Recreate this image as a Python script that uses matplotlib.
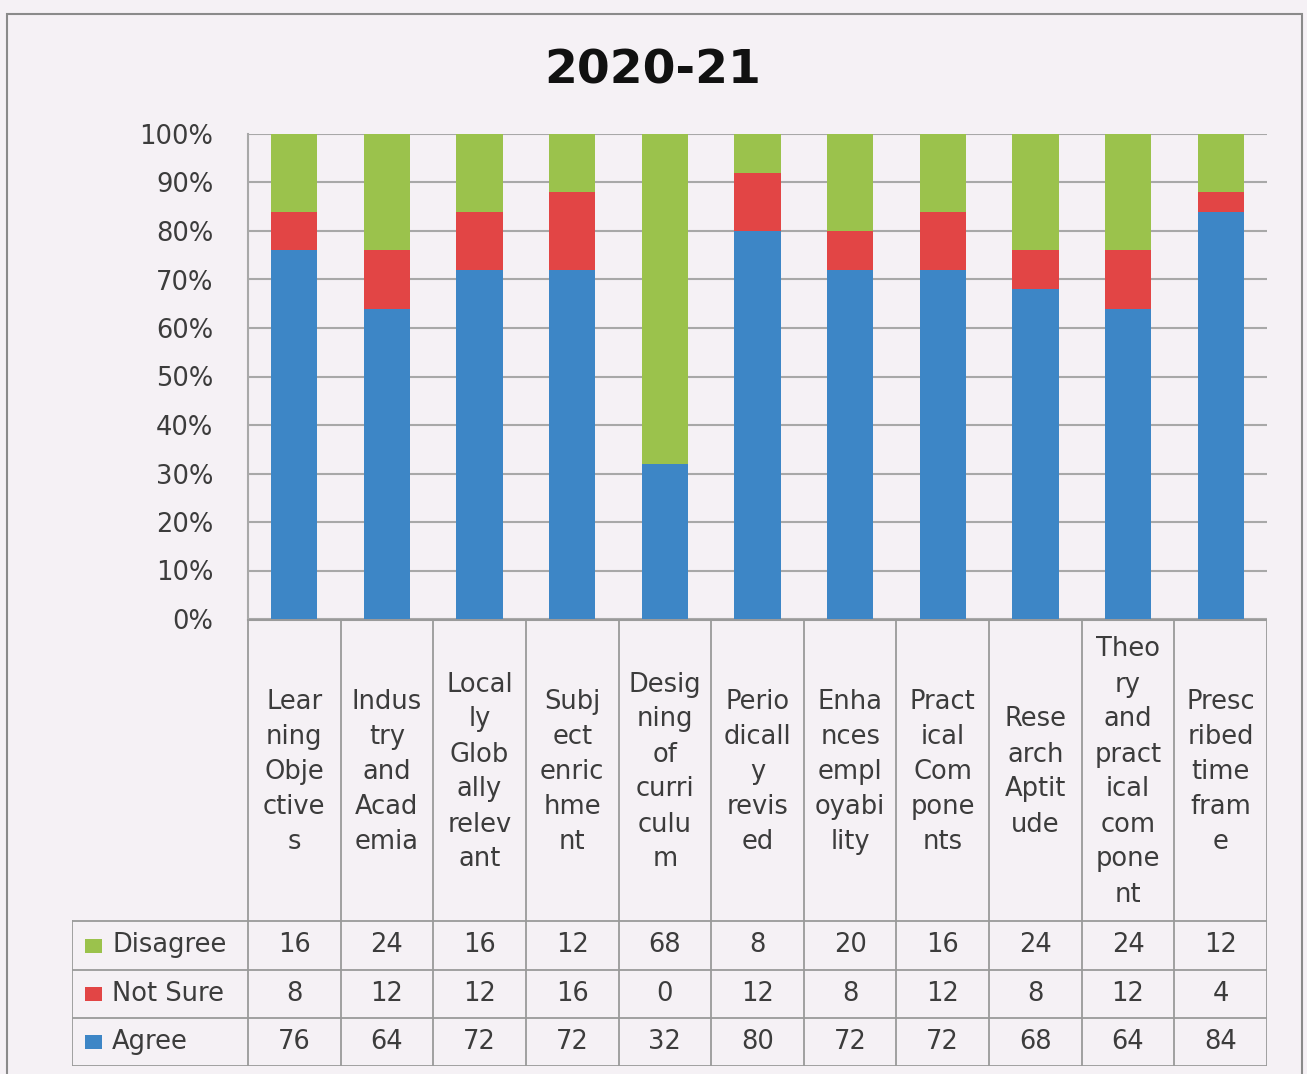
import matplotlib.pyplot as plt
from matplotlib.patches import Rectangle

# data (percent of respondents)
categories = ["Lear\nning\nObje\nctive\ns", "Indus\ntry\nand\nAcad\nemia",
              "Local\nly\nGlob\nally\nrelev\nant", "Subj\nect\nenric\nhme\nnt",
              "Desig\nning\nof\ncurri\nculu\nm", "Perio\ndicall\ny\nrevis\ned",
              "Enha\nnces\nempl\noyabi\nlity", "Pract\nical\nCom\npone\nnts",
              "Rese\narch\nAptit\nude", "Theo\nry\nand\npract\nical\ncom\npone\nnt",
              "Presc\nribed\ntime\nfram\ne"]
agree = [76, 64, 72, 72, 32, 80, 72, 72, 68, 64, 84]
not_sure = [8, 12, 12, 16, 0, 12, 8, 12, 8, 12, 4]
disagree = [16, 24, 16, 12, 68, 8, 20, 16, 24, 24, 12]
series_names = ["Disagree", "Not Sure", "Agree"]

c_agree, c_ns, c_dis = "#3d86c6", "#e24545", "#9bc24c"
txt = "#3c3c3c"
bg = "#f5f1f5"
grid_c = "#a8a8a8"
plt.rcParams['font.family'] = ['DejaVu Sans']
FS = 18.5

W, H = 1307, 1074
fig = plt.figure(figsize=(W / 100, H / 100), dpi=100, facecolor=bg)


def fx(x):
    return x / W


def fy(y):
    return 1 - y / H


# outer frame
fig.patches.append(Rectangle((fx(7), fy(1090)), fx(1302) - fx(7), fy(14) - fy(1090),
                             transform=fig.transFigure, fill=False, ec="#8a8a8a", lw=1.5))

fig.text(fx(653), fy(71), "2020-21", ha="center", va="center", fontsize=34,
         fontweight="bold", color="#111111")

# main plot area
L, R, T, B = 248, 1267, 134, 619
ax = fig.add_axes([fx(L), fy(B), fx(R) - fx(L), fy(T) - fy(B)])
ax.set_facecolor(bg)
x = range(len(categories))
ax.bar(x, agree, width=0.5, color=c_agree, zorder=3)
ax.bar(x, not_sure, width=0.5, bottom=agree, color=c_ns, zorder=3)
bottom3 = [a + n for a, n in zip(agree, not_sure)]
ax.bar(x, disagree, width=0.5, bottom=bottom3, color=c_dis, zorder=3)
ax.set_xlim(-0.5, len(categories) - 0.5)
ax.set_ylim(0, 100)
ax.set_yticks(range(0, 101, 10))
ax.set_yticklabels([f"{v}%" for v in range(0, 101, 10)], fontsize=FS, color=txt)
ax.tick_params(axis="y", length=0, pad=25)
ax.set_xticks([])
ax.yaxis.grid(True, color=grid_c, lw=1.5, zorder=0)
for s in ["top", "right", "bottom"]:
    ax.spines[s].set_visible(False)
ax.spines["left"].set_color(grid_c)
ax.spines["left"].set_linewidth(1.5)

# category labels + data table
TL, TB = 72, 1066
cw = (R - L) / len(categories)
left_x = -0.5 - (L - TL) / cw
tab = fig.add_axes([fx(TL), fy(TB), fx(R) - fx(TL), fy(B) - fy(TB)])
tab.set_xlim(left_x, len(categories) - 0.5)
tab.set_ylim(TB, B)
tab.axis("off")
tab.patch.set_alpha(0)

rows = [921, 970, 1018, 1066]
lc = "#9a9a9a"
tab.plot([-0.5, len(categories) - 0.5], [B + 1, B + 1], color=lc, lw=1.5)
for k in range(len(categories) + 1):
    tab.plot([k - 0.5, k - 0.5], [B, TB], color=lc, lw=1.3)
tab.plot([left_x, left_x], [rows[0], TB], color=lc, lw=1.3)
for yv in rows:
    tab.plot([left_x, len(categories) - 0.5], [yv, yv], color=lc, lw=1.3)

for i, lab in enumerate(categories):
    tab.text(i, (B + rows[0]) / 2 + 2, lab, ha="center", va="center", fontsize=FS,
             color=txt, linespacing=1.45)

values = [disagree, not_sure, agree]
colors = [c_dis, c_ns, c_agree]
for r, (name, vals, col) in enumerate(zip(series_names, values, colors)):
    yc = (rows[r] + rows[r + 1]) / 2
    tab.add_patch(Rectangle((left_x + 13 / cw, yc - 7), 17 / cw, 14, color=col, lw=0))
    tab.text(left_x + 40 / cw, yc, name, ha="left", va="center", fontsize=FS, color=txt)
    for i, v in enumerate(vals):
        tab.text(i, yc, str(v), ha="center", va="center", fontsize=FS, color=txt)

fig.savefig("out.png", dpi=100, facecolor=bg)
